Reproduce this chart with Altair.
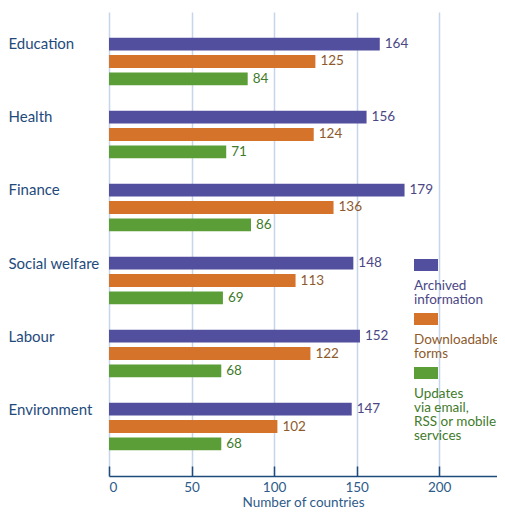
import json
import altair as alt
import pandas as pd

FONT = "Lato"

categories = ["Education", "Health", "Finance", "Social welfare", "Labour", "Environment"]
series = ["Archived information", "Downloadable forms", "Updates via email, RSS or mobile services"]
archived = [164, 156, 179, 148, 152, 147]
downloadable = [125, 124, 136, 113, 122, 102]
updates = [84, 71, 86, 69, 68, 68]
legend_lines = [["Archived", "information"], ["Downloadable", "forms"],
                ["Updates", "via email,", "RSS or mobile", "services"]]
x_ticks = [0, 50, 100, 150, 200]

bar_colors = ["#534f9f", "#d6732b", "#5b9e38"]
text_colors = ["#4b4785", "#8d5a2c", "#3f7b2b"]
navy = "#1f4b7c"

W, H = 388, 464

rows = []
for i, c in enumerate(categories):
    for s, vals in zip(series, [archived, downloadable, updates]):
        rows.append({"category": c, "series": s, "value": vals[i]})
df = pd.DataFrame(rows)

label_expr = ""
color_expr = ""
for s, lines, tc in zip(series, legend_lines, text_colors):
    label_expr += f"datum.value == {json.dumps(s)} ? {json.dumps([''] + lines)} : "
    color_expr += f"datum.value == {json.dumps(s)} ? '{tc}' : "
label_expr += "datum.label"
color_expr += "'#333333'"

x_scale = alt.Scale(domain=[0, 235], nice=False)

y_enc = alt.Y("category:N", sort=categories,
              scale=alt.Scale(paddingInner=0, paddingOuter=0.178),
              axis=alt.Axis(title=None, domain=False, ticks=False, grid=False,
                            labelAlign="left", labelPadding=101, labelOffset=-17,
                            labelBaseline="middle", labelFont=FONT, labelFontSize=15,
                            labelColor=navy, labelLimit=200))
yoff_enc = alt.YOffset("series:N", sort=series,
                       scale=alt.Scale(paddingInner=0.26, paddingOuter=0.74))

bars = alt.Chart(df).mark_bar().encode(
    x=alt.X("value:Q", scale=x_scale,
            axis=alt.Axis(values=x_ticks, title="Number of countries", grid=True,
                          gridColor="#c5d6ec", gridWidth=1.5, domain=False, ticks=False,
                          labelPadding=4, labelFont=FONT, labelFontSize=13.5,
                          labelColor="#2e5b8a", titleFont=FONT, titleFontSize=13.5,
                          titleFontWeight="normal", titleColor="#2e5b8a", titlePadding=2)),
    y=y_enc,
    yOffset=yoff_enc,
    color=alt.Color("series:N", sort=series,
                    scale=alt.Scale(domain=series, range=bar_colors),
                    legend=alt.Legend(orient="none", legendX=305, legendY=241, title=None,
                                      symbolType="M-1,-0.5H1V0.5H-1Z", symbolSize=576,
                                      symbolStrokeWidth=0, symbolOpacity=1,
                                      labelExpr=label_expr,
                                      labelColor={"expr": color_expr},
                                      labelOffset={"expr": "-24"}, labelBaseline="top",
                                      labelFont=FONT, labelFontSize=13.5, labelLimit=300,
                                      rowPadding=0, padding=0, symbolOffset=0)),
)

texts = alt.Chart(df).mark_text(align="left", dx=5, baseline="middle",
                                fontSize=13.5, font=FONT).encode(
    x=alt.X("value:Q", scale=x_scale,
            axis=alt.Axis(orient="top", offset=-H, values=x_ticks, labels=False,
                          title=None, grid=False, domain=True, domainColor=navy,
                          domainWidth=1.5, ticks=True, tickSize=10, tickColor=navy,
                          tickWidth=1.5, zindex=1)),
    y=y_enc,
    yOffset=yoff_enc,
    text="value:Q",
    color=alt.Color("series:N", sort=series,
                    scale=alt.Scale(domain=series, range=text_colors), legend=None),
)

chart = alt.layer(bars, texts).resolve_scale(color="independent").resolve_axis(
    x="independent"
).properties(
    width=W, height=H,
    autosize=alt.AutoSizeParams(type="none"),
    padding={"left": 101, "top": 4, "right": 0, "bottom": 34},
).configure(style={"guide-label": {"lineHeight": 14}}).configure_view(stroke=None)

chart.save("out.html", embed_options={"renderer": "svg", "actions": False})
